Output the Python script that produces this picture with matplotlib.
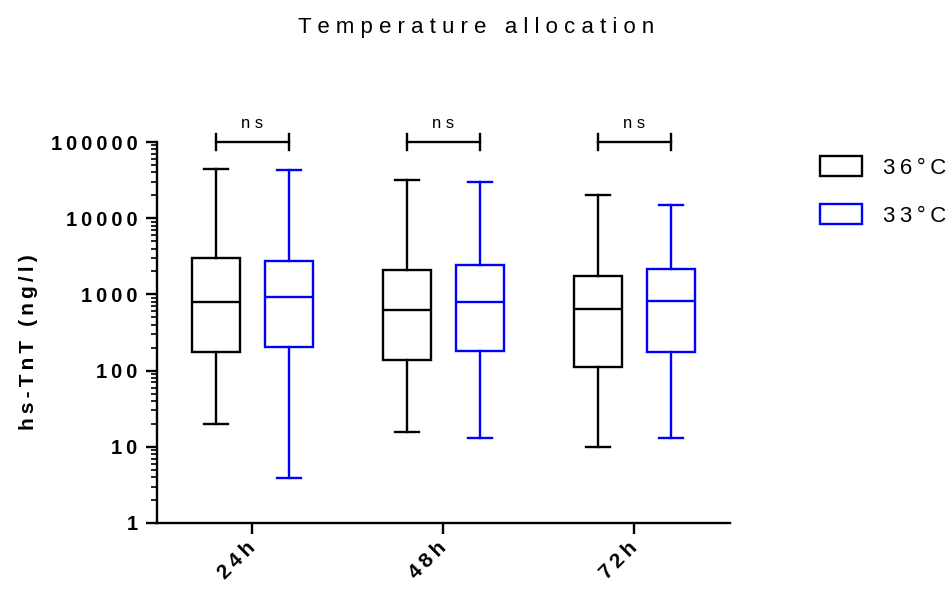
import matplotlib
matplotlib.use("Agg")
import matplotlib.pyplot as plt
from matplotlib.patches import Patch
from matplotlib.ticker import LogLocator, FixedLocator, NullFormatter

# ---- data ----
timepoints = ["24h", "48h", "72h"]
series_names = ["36°C", "33°C"]
series_colors = ["black", "#0000ff"]

# box-plot summaries (min, Q1, median, Q3, max)
w36_low = [20, 15.6, 10]
q1_36 = [175, 138, 111]
med_36 = [795, 624, 643]
q3_36 = [3000, 2090, 1740]
w36_high = [44000, 31700, 20100]

w33_low = [3.9, 13, 13]
q1_33 = [204, 181, 175]
med_33 = [925, 795, 819]
q3_33 = [2740, 2430, 2150]
w33_high = [42900, 29800, 14900]

sig_labels = ["ns", "ns", "ns"]
ytick_values = [1, 10, 100, 1000, 10000, 100000]
title_text = "Temperature allocation"
ylabel_text = "hs-TnT (ng/l)"

THIN = "\u2009"


def spaced(s, sep=" "):
    # letter-spaced text (GraphPad style)
    return sep.join(list(s))


plt.rcParams['font.family'] = ['Liberation Sans', 'DejaVu Sans']

fig = plt.figure(figsize=(9.53, 5.97), dpi=100)
ax = fig.add_axes([157 / 953, 1 - 523 / 597, (730 - 157) / 953, (523 - 142) / 597])

offset = 0.19
width = 0.25
series = [
    (w36_low, q1_36, med_36, q3_36, w36_high),
    (w33_low, q1_33, med_33, q3_33, w33_high),
]
for si, (lo, q1, med, q3, hi) in enumerate(series):
    stats = []
    for i in range(len(timepoints)):
        stats.append(dict(whislo=lo[i], q1=q1[i], med=med[i], q3=q3[i], whishi=hi[i], fliers=[]))
    pos = [i + (offset if si == 1 else -offset) for i in range(len(timepoints))]
    c = series_colors[si]
    ax.bxp(stats, positions=pos, widths=width, showfliers=False, patch_artist=True,
           capwidths=width / 2,
           boxprops=dict(facecolor="white", edgecolor=c, linewidth=1.7),
           medianprops=dict(color=c, linewidth=1.7),
           whiskerprops=dict(color=c, linewidth=1.7),
           capprops=dict(color=c, linewidth=1.7),
           manage_ticks=False)

ax.set_yscale("log")
ax.set_ylim(1, 100000)
ax.set_xlim(-0.5, 2.5)

ax.yaxis.set_major_locator(FixedLocator(ytick_values))
ax.set_yticks(ytick_values)
ax.set_yticklabels([spaced(str(v), THIN) for v in ytick_values], fontsize=14.5, fontweight="bold")
ax.yaxis.set_minor_locator(LogLocator(base=10, subs=range(2, 10)))
ax.yaxis.set_minor_formatter(NullFormatter())

ax.set_xticks(range(len(timepoints)))
ax.set_xticklabels([spaced(t, THIN) for t in timepoints], fontsize=15, fontweight="bold",
                   rotation=45, ha="right", va="center", rotation_mode="anchor")

ax.tick_params(axis="both", which="major", direction="out", length=8, width=1.7, pad=6)
ax.tick_params(axis="x", which="major", pad=8)
ax.tick_params(axis="y", which="minor", direction="out", length=4, width=1.2)
for sp in ["top", "right"]:
    ax.spines[sp].set_visible(False)
for sp in ["left", "bottom"]:
    ax.spines[sp].set_linewidth(1.7)

ax.set_ylabel(spaced(ylabel_text, THIN), fontsize=15, fontweight="bold")
ax.yaxis.set_label_coords(-0.208, 0.475)

fig.suptitle(spaced(title_text), fontsize=16, y=1 - 17 / 597, va="top")

# significance brackets
ybar = 100000
for i, lab in enumerate(sig_labels):
    x0, x1 = i - offset, i + offset
    ax.plot([x0, x1], [ybar, ybar], color="black", lw=1.7, clip_on=False)
    ax.plot([x0, x0], [ybar / 1.27, ybar * 1.27], color="black", lw=1.7, clip_on=False)
    ax.plot([x1, x1], [ybar / 1.27, ybar * 1.27], color="black", lw=1.7, clip_on=False)
    ax.text(i, ybar * 1.38, spaced(lab), ha="center", va="bottom", fontsize=12)

handles = [Patch(facecolor="white", edgecolor=c, linewidth=1.7) for c in series_colors]
fig.legend(handles, [spaced(s, THIN) for s in series_names], loc="upper left",
           bbox_to_anchor=(820 / 953, 1 - 156 / 597), frameon=False, fontsize=16,
           handlelength=1.9, handleheight=1.0, handletextpad=0.95, labelspacing=1.15,
           borderpad=0, borderaxespad=0)

fig.savefig("out.png", dpi=100)
